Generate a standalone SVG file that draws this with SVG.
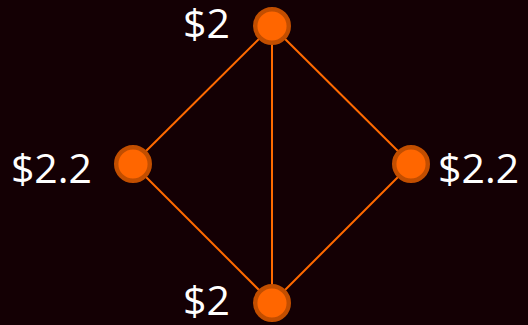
<svg xmlns="http://www.w3.org/2000/svg" width="528" height="325" viewBox="0 0 528 325">
<style>
.e{stroke:#ff6a00;stroke-width:2;fill:none}
.n{fill:#ff6600;stroke:#c24e00;stroke-width:4.4}
.t{font-family:"Open Sans","Noto Sans",sans-serif;font-size:41px;fill:#ffffff}
</style>
<rect width="528" height="325" fill="#140004"/>
<g id="edges">
<line class="e" x1="272" y1="26" x2="133" y2="164"/>
<line class="e" x1="272" y1="26" x2="411" y2="164"/>
<line class="e" x1="272" y1="26" x2="272" y2="303"/>
<line class="e" x1="133" y1="164" x2="272" y2="303"/>
<line class="e" x1="411" y1="164" x2="272" y2="303"/>
</g>
<g id="n-top"><circle class="n" cx="272" cy="26" r="16.8"/><text class="t" x="230" y="38" text-anchor="end">$2</text></g>
<g id="n-left"><circle class="n" cx="133" cy="164" r="16.8"/><text class="t" x="92" y="183" text-anchor="end">$2.2</text></g>
<g id="n-right"><circle class="n" cx="411" cy="164" r="16.8"/><text class="t" x="438" y="183">$2.2</text></g>
<g id="n-bottom"><circle class="n" cx="272" cy="303" r="16.8"/><text class="t" x="230" y="315" text-anchor="end">$2</text></g>
</svg>
